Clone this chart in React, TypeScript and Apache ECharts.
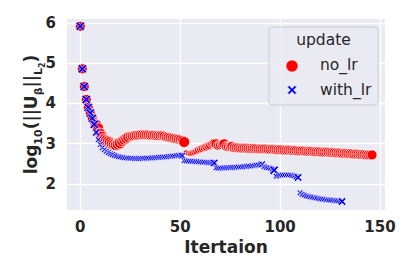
import React, { useEffect, useRef } from "react";
import * as echarts from "echarts";

const noLrValues = [
  5.92, 4.86, 4.42, 4.1, 3.9, 3.76, 3.63, 3.52, 3.47, 3.38,
  3.25, 3.16, 3.1, 3.07, 3.05, 3.03, 3.0, 2.98, 2.97, 2.99,
  3.02, 3.06, 3.1, 3.13, 3.16, 3.18, 3.19, 3.2, 3.21, 3.21,
  3.22, 3.22, 3.22, 3.22, 3.22, 3.21, 3.21, 3.21, 3.2, 3.2,
  3.2, 3.2, 3.19, 3.17, 3.16, 3.15, 3.14, 3.13, 3.12, 3.11,
  3.1, 3.08, 3.04, 2.78, 2.76, 2.76, 2.77, 2.79, 2.81, 2.84,
  2.86, 2.88, 2.9, 2.92, 2.94, 2.96, 2.99, 3.01, 2.99, 2.95,
  2.96, 2.97, 2.99, 2.93, 2.92, 2.92, 2.93, 2.9, 2.9, 2.9,
  2.89, 2.89, 2.89, 2.89, 2.88, 2.88, 2.88, 2.88, 2.88, 2.87,
  2.87, 2.87, 2.87, 2.87, 2.86, 2.86, 2.86, 2.86, 2.85, 2.85,
  2.85, 2.85, 2.84, 2.84, 2.84, 2.84, 2.83, 2.83, 2.83, 2.82,
  2.82, 2.82, 2.82, 2.81, 2.81, 2.81, 2.81, 2.8, 2.8, 2.8,
  2.8, 2.79, 2.79, 2.79, 2.79, 2.78, 2.78, 2.78, 2.77, 2.77,
  2.77, 2.76, 2.76, 2.76, 2.75, 2.75, 2.75, 2.74, 2.74, 2.74,
  2.73, 2.73, 2.73, 2.72, 2.72, 2.72, 2.72,
];

const noLrSizes = [
  10, 10, 10, 10, 10, 10, 10, 10, 11, 11,
  11, 12, 12, 12, 12, 12, 12, 12, 12, 12,
  12, 11, 11, 11, 11, 10, 10, 10, 10, 10,
  10, 10, 10, 10, 10, 10, 10, 10, 10, 10,
  10, 10, 10, 10, 10, 10, 10, 10, 10, 10,
  10, 10, 11, 5.5, 5.5, 6, 6.5, 6.5, 7, 7.5,
  7.5, 8, 8, 8.5, 8.5, 9, 9, 9.5, 10.5, 9.5,
  9.5, 9.5, 10.5, 9.5, 9.5, 9.5, 10.5, 10, 10, 10,
  10, 10, 10, 10, 10, 10, 10, 10, 10, 10,
  10, 10, 10, 10, 10, 10, 10, 10, 10, 10,
  10, 10, 10, 10, 10, 10, 10, 10, 10, 10,
  10, 10, 10, 10, 10, 10, 10, 10, 10, 10,
  10, 10, 10, 10, 10, 10, 10, 10, 10, 10,
  10, 10, 10, 10, 10, 10, 10, 10, 10, 10,
  10, 10, 10, 10, 10, 10, 10,
];

const withLrValues = [
  5.92, 4.86, 4.42, 4.1, 3.9, 3.76, 3.63, 3.48, 3.28, 3.1,
  2.98, 2.9, 2.85, 2.81, 2.78, 2.75, 2.73, 2.71, 2.69, 2.68,
  2.67, 2.66, 2.65, 2.65, 2.64, 2.64, 2.64, 2.63, 2.63, 2.63,
  2.63, 2.63, 2.64, 2.64, 2.64, 2.64, 2.65, 2.65, 2.65, 2.66,
  2.66, 2.66, 2.67, 2.67, 2.68, 2.68, 2.69, 2.69, 2.7, 2.71,
  2.71, 2.7, 2.58, 2.57, 2.57, 2.56, 2.56, 2.56, 2.55, 2.55,
  2.55, 2.54, 2.54, 2.54, 2.53, 2.53, 2.53, 2.52, 2.4, 2.39,
  2.39, 2.39, 2.4, 2.4, 2.4, 2.41, 2.41, 2.41, 2.41, 2.42,
  2.42, 2.42, 2.43, 2.43, 2.44, 2.44, 2.45, 2.45, 2.46, 2.47,
  2.48, 2.49, 2.43, 2.41, 2.4, 2.39, 2.37, 2.34, 2.19, 2.2,
  2.21, 2.22, 2.22, 2.22, 2.22, 2.22, 2.21, 2.2, 2.18, 2.16,
  1.78, 1.74, 1.72, 1.7, 1.69, 1.68, 1.67, 1.66, 1.65, 1.64,
  1.63, 1.62, 1.62, 1.61, 1.6, 1.6, 1.59, 1.59, 1.58, 1.58,
  1.57, 1.56,
];

const withLrSizes = [
  9, 9, 9, 9, 9, 9, 9, 9, 8, 6,
  6, 6, 6, 6, 6, 6, 6, 6, 6, 6,
  6, 6, 6, 6, 6, 6, 6, 6, 6, 6,
  6, 6, 6, 6, 6, 6, 6, 6, 6, 6,
  6, 6, 6, 6, 6, 6, 6, 6, 6, 6,
  6, 7, 6, 6, 6, 6, 6, 6, 6, 6,
  6, 6, 6, 6, 6, 6, 6, 8, 6, 6,
  6, 6, 6, 6, 6, 6, 6, 6, 6, 6,
  6, 6, 6, 6, 6, 6, 6, 6, 6, 6,
  6, 7, 6, 6, 6, 6, 6, 9, 6, 6,
  6, 6, 6, 6, 6, 6, 6, 6, 6, 8,
  6, 6, 6, 6, 6, 6, 6, 6, 6, 6,
  6, 6, 6, 6, 6, 6, 6, 6, 6, 6,
  6, 8,
];

const seriesNames = ["no_lr", "with_lr"];
const legendTitle = "update";
const xAxisTitle = "Itertaion";

const X_PATH =
  "path://M0,1.8L1.8,0L5,3.2L8.2,0L10,1.8L6.8,5L10,8.2L8.2,10L5,6.8L1.8,10L0,8.2L3.2,5Z";
const FONT = "DejaVu Sans";
const TEXT = "#262626";

export default function App() {
  const ref = useRef<HTMLDivElement>(null);
  useEffect(() => {
    const chart = echarts.init(ref.current!, null, { renderer: "svg" });
    const noLrData = noLrValues.map((v, i) => [i, v]);
    const withLrData = withLrValues.map((v, i) => [i, v]);
    const cx = 292;
    const cy = 90;
    const k = 0.9;
    const xPts = [
      [0, 1.8], [1.8, 0], [5, 3.2], [8.2, 0], [10, 1.8], [6.8, 5],
      [10, 8.2], [8.2, 10], [5, 6.8], [1.8, 10], [0, 8.2], [3.2, 5],
    ].map(([a, b]) => [cx + (a - 5) * k, cy + (b - 5) * k]);
    chart.setOption({
      animation: false,
      backgroundColor: "#ffffff",
      textStyle: { fontFamily: FONT },
      grid: {
        left: 67,
        top: 19,
        width: 318,
        height: 191,
        show: true,
        backgroundColor: "#EAEAF2",
        borderWidth: 0,
      },
      xAxis: {
        type: "value",
        min: -6.65,
        max: 152.5,
        splitNumber: 3,
        axisLine: { show: false },
        axisTick: { show: false },
        axisLabel: {
          showMinLabel: false,
          showMaxLabel: false,
          color: TEXT,
          fontSize: 15,
          fontWeight: "bold",
          fontFamily: FONT,
          margin: 9,
        },
        splitLine: { show: true, showMinLine: false, showMaxLine: false, lineStyle: { color: "#ffffff", width: 1.3 } },
        name: xAxisTitle,
        nameLocation: "middle",
        nameGap: 28,
        nameMoveOverlap: false,
        nameTextStyle: { color: TEXT, fontSize: 17, fontWeight: "bold", fontFamily: FONT },
      },
      yAxis: {
        type: "value",
        min: 1.35,
        max: 6.1,
        splitNumber: 5,
        axisLine: { show: false },
        axisTick: { show: false },
        axisLabel: {
          showMinLabel: false,
          showMaxLabel: false,
          color: TEXT,
          fontSize: 15,
          fontWeight: "bold",
          fontFamily: FONT,
          margin: 11,
        },
        splitLine: { show: true, showMinLine: false, showMaxLine: false, lineStyle: { color: "#ffffff", width: 1.3 } },
        name: "{n|log}{s|10}{n|(||U}{s|β}{n|||}{s|L}{t|2}{n|)}",
        nameLocation: "middle",
        nameRotate: 90,
        nameGap: 28,
        nameMoveOverlap: false,
        nameTextStyle: {
          color: TEXT,
          fontFamily: FONT,
          fontWeight: "bold",
          rich: {
            n: { fontSize: 17, fontWeight: "bold", color: TEXT, fontFamily: FONT, lineHeight: 20, verticalAlign: "bottom" },
            s: { fontSize: 11, fontWeight: "bold", color: TEXT, fontFamily: FONT, lineHeight: 14, verticalAlign: "bottom", padding: [0, 0, -5, 0] },
            t: { fontSize: 8, fontWeight: "bold", color: TEXT, fontFamily: FONT, lineHeight: 10, verticalAlign: "bottom", padding: [0, 0, -7, 0] },
          },
        },
      },
      series: [
        {
          name: seriesNames[0],
          type: "scatter",
          data: noLrData,
          symbol: "circle",
          symbolSize: (_v: any, p: any) => noLrSizes[p.dataIndex],
          itemStyle: { color: "#ff0000", borderColor: "#ffffff", borderWidth: 0.8, opacity: 1 },
          z: 2,
        },
        {
          name: seriesNames[1],
          type: "scatter",
          data: withLrData,
          symbol: X_PATH,
          symbolSize: (_v: any, p: any) => withLrSizes[p.dataIndex],
          itemStyle: { color: "#0000ff", borderColor: "#ffffff", borderWidth: 0.6, opacity: 1 },
          z: 3,
        },
      ],
      graphic: [
        {
          type: "rect",
          z: 10,
          shape: { x: 269, y: 27, width: 109, height: 78, r: 3 },
          style: { fill: "rgba(234,234,242,0.8)", stroke: "#cccccc", lineWidth: 1 },
        },
        {
          type: "text",
          z: 11,
          x: 323.5,
          y: 40,
          style: { text: legendTitle, fill: TEXT, fontSize: 15.5, fontFamily: FONT, align: "center", verticalAlign: "middle" },
        },
        {
          type: "circle",
          z: 11,
          shape: { cx: 292, cy: 66, r: 6 },
          style: { fill: "#ff0000", stroke: "#ffffff", lineWidth: 0.6 },
        },
        {
          type: "polygon",
          z: 11,
          shape: { points: xPts },
          style: { fill: "#0000ff", stroke: "#ffffff", lineWidth: 0.5 },
        },
        {
          type: "text",
          z: 11,
          x: 320,
          y: 65,
          style: { text: seriesNames[0], fill: TEXT, fontSize: 15.5, fontFamily: FONT, align: "left", verticalAlign: "middle" },
        },
        {
          type: "text",
          z: 11,
          x: 320,
          y: 90,
          style: { text: seriesNames[1], fill: TEXT, fontSize: 15.5, fontFamily: FONT, align: "left", verticalAlign: "middle" },
        },
      ],
    });
    return () => chart.dispose();
  }, []);
  return <div ref={ref} style={{ position: "absolute", left: 0, top: 0, width: 415, height: 277 }} />;
}
